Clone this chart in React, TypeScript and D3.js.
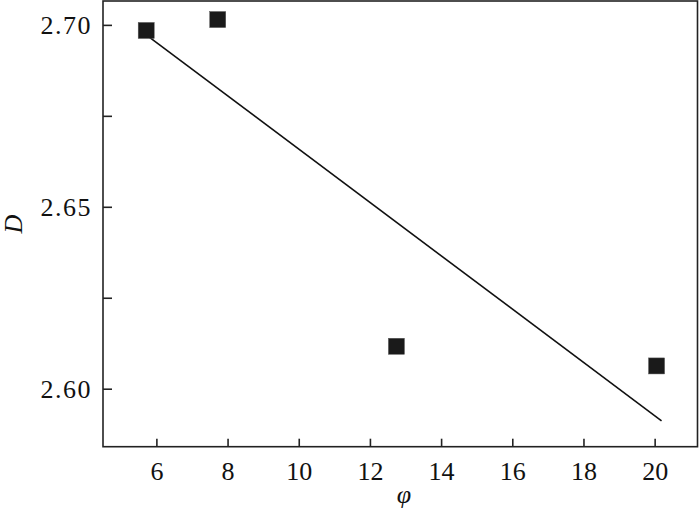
import React from "react";
import * as d3 from "d3";

const phiValues = [5.7, 7.71, 12.73, 20.04];
const dValues = [2.6986, 2.7016, 2.6118, 2.6064];
const fitPhi = [5.7, 20.18];
const fitD = [2.6974, 2.5913];
const xTicks = [6, 8, 10, 12, 14, 16, 18, 20];
const yMajorTicks = [2.6, 2.65, 2.7];
const yMinorTicks = [2.625, 2.675];

const W = 700;
const H = 511;
const left = 103;
const right = 697.5;
const top = 1;
const bottom = 446.7;

export default function App() {
  const x = d3.scaleLinear().domain([4.486, 21.19]).range([left, right]);
  const y = d3.scaleLinear().domain([2.5842, 2.7067]).range([bottom, top]);
  const line = d3
    .line<number>()
    .x((d, i) => x(fitPhi[i]))
    .y((d) => y(d));
  const font = "Liberation Serif";
  const sq = 16;
  return (
    <div style={{ position: "absolute", left: 0, top: 0 }}>
      <svg width={W} height={H} style={{ display: "block", background: "#fff" }}>
        <rect x={left} y={top} width={right - left} height={bottom - top} fill="none" stroke="#222" strokeWidth={1.6} />
        {xTicks.map((t) => (
          <g key={"x" + t}>
            <line x1={x(t)} x2={x(t)} y1={bottom} y2={bottom - 8} stroke="#222" strokeWidth={1.6} />
            <text x={x(t)} y={bottom + 33} textAnchor="middle" style={{ fontFamily: font }} fontSize={26} fill="#111">
              {t}
            </text>
          </g>
        ))}
        {yMajorTicks.map((t) => (
          <g key={"y" + t}>
            <line x1={left} x2={left + 9} y1={y(t)} y2={y(t)} stroke="#222" strokeWidth={1.6} />
            <text x={left - 11} y={y(t) + 9} textAnchor="end" style={{ fontFamily: font }} fontSize={26} fill="#111" letterSpacing={1.5}>
              {t.toFixed(2)}
            </text>
          </g>
        ))}
        {yMinorTicks.map((t) => (
          <line key={"m" + t} x1={left} x2={left + 9} y1={y(t)} y2={y(t)} stroke="#222" strokeWidth={1.6} />
        ))}
        <path d={line(fitD) || ""} fill="none" stroke="#111" strokeWidth={1.6} />
        {phiValues.map((p, i) => (
          <rect key={"p" + i} x={x(p) - sq / 2} y={y(dValues[i]) - sq / 2} width={sq} height={sq} fill="#1a1a1a" stroke="#555" strokeWidth={0.5} />
        ))}
        <text x={404} y={503} textAnchor="middle" style={{ fontFamily: font }} fontStyle="italic" fontSize={26} fill="#111">
          φ
        </text>
        <text transform={`translate(22, 224) rotate(-90)`} textAnchor="middle" style={{ fontFamily: font }} fontStyle="italic" fontSize={26} fill="#111">
          D
        </text>
      </svg>
    </div>
  );
}
